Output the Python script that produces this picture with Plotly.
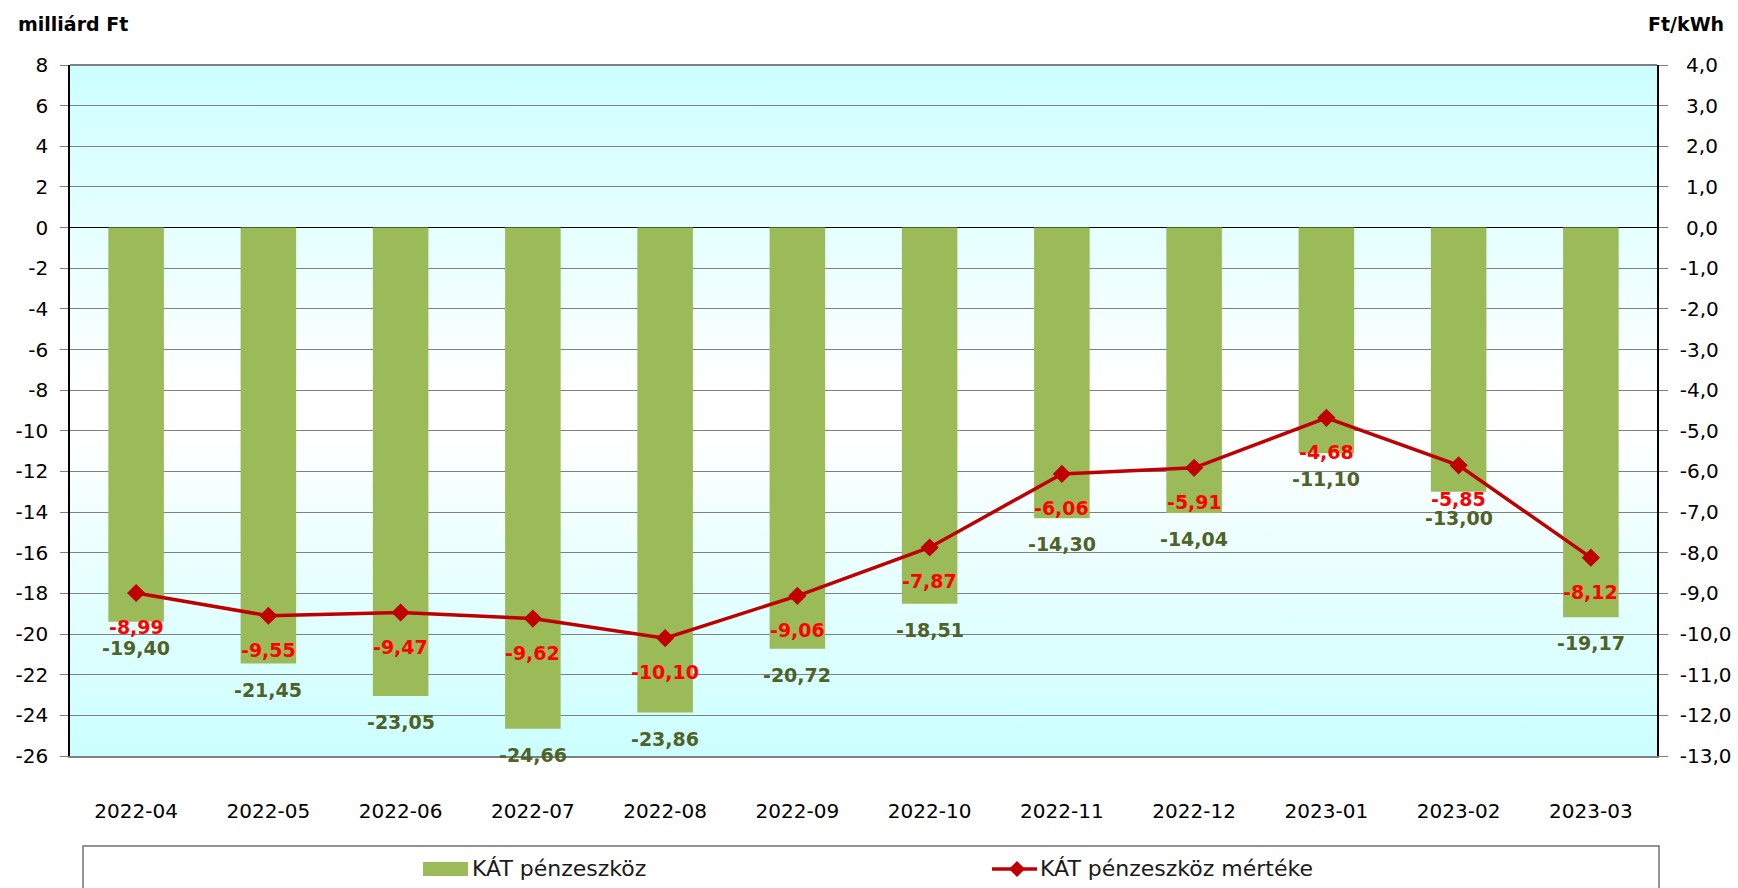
import base64
import plotly.graph_objects as go

categories = ["2022-04", "2022-05", "2022-06", "2022-07", "2022-08", "2022-09",
              "2022-10", "2022-11", "2022-12", "2023-01", "2023-02", "2023-03"]
kat_penzeszkoz = [-19.40, -21.45, -23.05, -24.66, -23.86, -20.72,
                  -18.51, -14.30, -14.04, -11.10, -13.00, -19.17]
kat_mertek = [-8.99, -9.55, -9.47, -9.62, -10.10, -9.06,
              -7.87, -6.06, -5.91, -4.68, -5.85, -8.12]
left_ticks = list(range(-26, 9, 2))
right_ticks = list(range(-13, 5, 1))
series_names = ["KÁT pénzeszköz", "KÁT pénzeszköz mértéke"]

def hu(v, d):
    return f"{v:.{d}f}".replace(".", ",")

def hu_axis(v):
    s = hu(v, 1)
    return s if v < 0 else "\u00a0" + s

W, H = 1738, 888
ML, MR, MT, MB = 70, 81, 65, 132
PW, PH = W - ML - MR, H - MT - MB
BOTTOM = MT + PH

def px_x(px):
    return (px - ML) / PW

def px_y(py):
    return (BOTTOM - py) / PH

svg = ('<svg xmlns="http://www.w3.org/2000/svg" width="100" height="100" preserveAspectRatio="none">'
       '<defs><linearGradient id="g" x1="0" y1="0" x2="0" y2="1">'
       '<stop offset="0" stop-color="#CCFFFF"/>'
       '<stop offset="0.47" stop-color="#FFFFFF"/>'
       '<stop offset="0.53" stop-color="#FFFFFF"/>'
       '<stop offset="1" stop-color="#CCFFFF"/>'
       '</linearGradient></defs><rect width="100" height="100" fill="url(#g)"/></svg>')
src = "data:image/svg+xml;base64," + base64.b64encode(svg.encode()).decode()

BAR_COLOR = "#9BBB59"
LINE_COLOR = "#C00000"

fig = go.Figure()
fig.add_trace(go.Bar(
    x=categories, y=kat_penzeszkoz, name=series_names[0],
    marker=dict(color=BAR_COLOR, line=dict(width=0)),
    width=0.42, yaxis="y", showlegend=False,
))
fig.add_trace(go.Scatter(
    x=categories, y=kat_mertek, name=series_names[1],
    mode="lines+markers",
    line=dict(color=LINE_COLOR, width=3.5),
    marker=dict(symbol="diamond", size=14, color=LINE_COLOR),
    cliponaxis=False, yaxis="y2", showlegend=False,
))

annotations = []
for c, v in zip(categories, kat_penzeszkoz):
    annotations.append(dict(
        x=c, y=v, xref="x", yref="y", text=f"<b>{hu(v, 2)}</b>", showarrow=False,
        yanchor="middle", yshift=-26,
        font=dict(family="DejaVu Sans", size=19, color="#4F6228")))
for c, v in zip(categories, kat_mertek):
    annotations.append(dict(
        x=c, y=v, xref="x", yref="y2", text=f"<b>{hu(v, 2)}</b>", showarrow=False,
        yanchor="middle", yshift=-34,
        font=dict(family="DejaVu Sans", size=19, color="#FF0000")))

annotations += [
    dict(text="<b>milliárd Ft</b>", xref="paper", yref="paper",
         x=px_x(16), y=px_y(24), xanchor="left", yanchor="middle",
         showarrow=False, font=dict(family="DejaVu Sans", size=19, color="black")),
    dict(text="<b>Ft/kWh</b>", xref="paper", yref="paper",
         x=px_x(1726), y=px_y(24), xanchor="right", yanchor="middle",
         showarrow=False, font=dict(family="DejaVu Sans", size=19, color="black")),
    # legend texts
    dict(text=series_names[0], xref="paper", yref="paper",
         x=px_x(470), y=px_y(869), xanchor="left", yanchor="middle",
         showarrow=False, font=dict(family="DejaVu Sans", size=22, color="#1a1a1a")),
    dict(text=series_names[1], xref="paper", yref="paper",
         x=px_x(1038), y=px_y(869), xanchor="left", yanchor="middle",
         showarrow=False, font=dict(family="DejaVu Sans", size=22, color="#1a1a1a")),
]

# legend diamond path (paper coords)
dcx, dcy, dr = 1017, 869, 8
diamond = (f"M {px_x(dcx - dr)} {px_y(dcy)} L {px_x(dcx)} {px_y(dcy - dr)} "
           f"L {px_x(dcx + dr)} {px_y(dcy)} L {px_x(dcx)} {px_y(dcy + dr)} Z")

shapes = [
    dict(type="line", xref="paper", yref="paper", x0=0, x1=1, y0=1, y1=1,
         line=dict(color="#808080", width=2)),
    dict(type="rect", xref="paper", yref="paper",
         x0=px_x(83), x1=px_x(1659), y0=px_y(H + 10), y1=px_y(846),
         line=dict(color="#707070", width=1.5)),
    dict(type="rect", xref="paper", yref="paper",
         x0=px_x(423), x1=px_x(468), y0=px_y(876), y1=px_y(862),
         fillcolor=BAR_COLOR, line=dict(width=0)),
    dict(type="line", xref="paper", yref="paper",
         x0=px_x(992), x1=px_x(1037), y0=px_y(869), y1=px_y(869),
         line=dict(color=LINE_COLOR, width=3.5)),
    dict(type="path", xref="paper", yref="paper", path=diamond,
         fillcolor=LINE_COLOR, line=dict(width=0)),
]

fig.update_layout(
    width=W, height=H,
    margin=dict(l=ML, r=MR, t=MT, b=MB, autoexpand=False),
    paper_bgcolor="white", plot_bgcolor="rgba(0,0,0,0)",
    font=dict(family="DejaVu Sans", size=20, color="black"),
    showlegend=False,
    xaxis=dict(
        type="category", range=[-0.5, len(categories) - 0.5],
        showgrid=False, showline=True, linecolor="#808080", linewidth=2,
        ticks="", ticklabelstandoff=36, tickfont=dict(size=20), automargin=False,
    ),
    yaxis=dict(
        range=[-26, 8], tickvals=left_ticks, ticktext=[str(v) for v in left_ticks],
        showgrid=True, gridcolor="#808080", gridwidth=1,
        zeroline=True, zerolinecolor="black", zerolinewidth=1,
        showline=True, linecolor="black", linewidth=1.5,
        ticks="outside", ticklen=8, tickcolor="#808080", ticklabelstandoff=8,
        tickfont=dict(size=20), automargin=False,
    ),
    yaxis2=dict(
        range=[-13, 4], tickvals=right_ticks, ticktext=[hu_axis(v) for v in right_ticks],
        overlaying="y", side="right", showgrid=False, zeroline=False,
        showline=True, linecolor="black", linewidth=1.5,
        ticks="outside", ticklen=9, tickcolor="#808080", ticklabelstandoff=8,
        tickfont=dict(size=20), automargin=False,
    ),
    images=[dict(source=src, xref="paper", yref="paper", x=0, y=1,
                 sizex=1, sizey=1, sizing="stretch", layer="below",
                 xanchor="left", yanchor="top")],
    shapes=shapes,
    annotations=annotations,
)

fig.write_html("out.html", config={"displayModeBar": False},
               post_script="document.body.style.margin='0';document.body.style.overflow='hidden';")
